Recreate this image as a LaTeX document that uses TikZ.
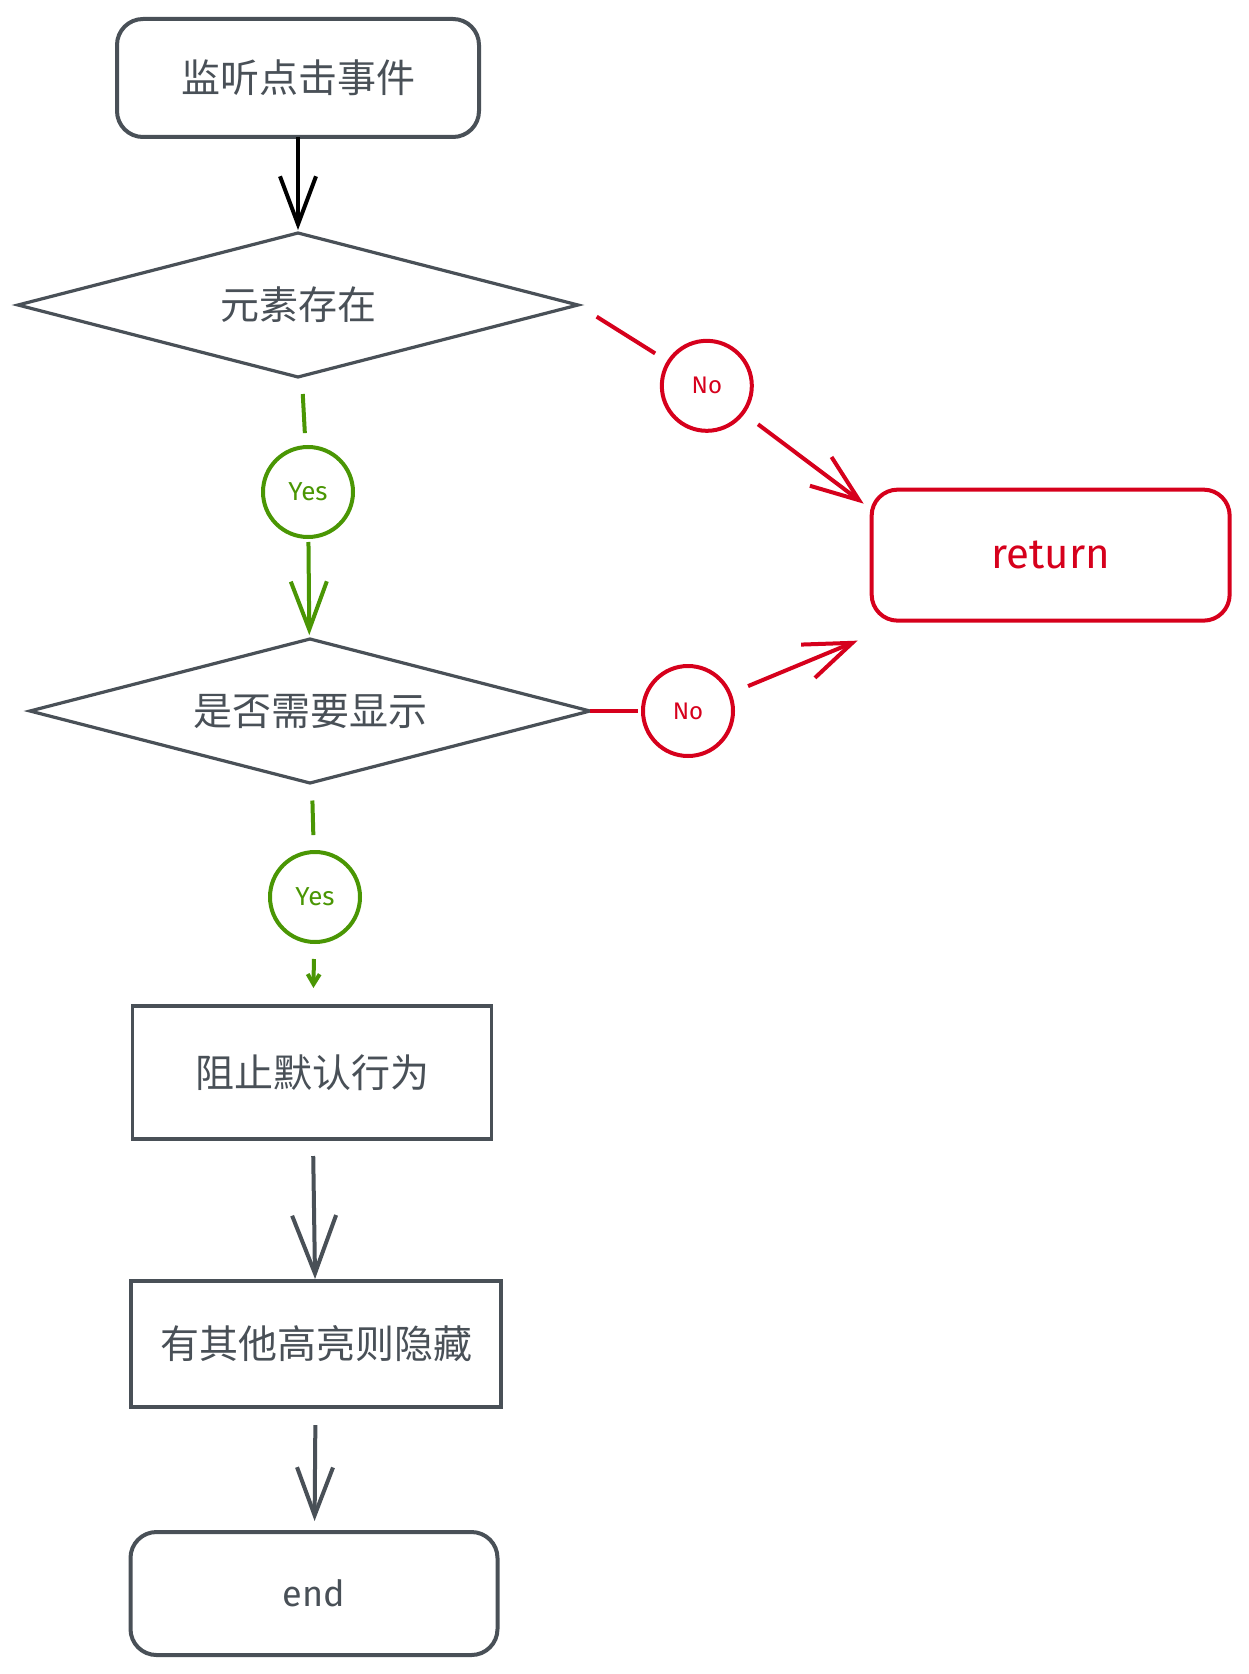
\documentclass[tikz,border=0pt]{standalone}
\usepackage{fontspec}
\setmainfont{Fira Sans}
\newfontfamily\cjk{Noto Sans CJK SC}
\usepackage{tikz}
\usetikzlibrary{shapes.geometric, arrows.meta, positioning}
\definecolor{inkgray}{RGB}{73,80,87}
\definecolor{inkred}{RGB}{214,0,28}
\definecolor{inkgreen}{RGB}{74,150,4}

\begin{document}
\begin{tikzpicture}[
    outer sep=0pt,
    zh/.style={font=\cjk\fontsize{19.5}{22}\selectfont, text=inkgray},
    terminal/.style={rectangle, draw=inkgray, line width=2pt, rounded corners=13pt, minimum width=181pt, minimum height=59pt, align=center},
    process/.style={rectangle, draw=inkgray, line width=1.6pt, minimum width=180pt, minimum height=65pt, align=center},
    decision/.style={diamond, draw=inkgray, line width=1.6pt, aspect=3.8, minimum width=280pt, minimum height=72pt, inner sep=1pt},
    yesmark/.style={circle, draw=inkgreen, text=inkgreen, line width=2pt, minimum size=45pt, inner sep=0pt, font=\fontsize{13}{15}\selectfont},
    nomark/.style={circle, draw=inkred, text=inkred, line width=2pt, minimum size=45pt, inner sep=0pt, font=\fontsize{12}{14}\selectfont},
    arrow/.style={-{Straight Barb[length=24pt, width=18pt]}, line width=2pt},
]
\useasboundingbox (0,0) rectangle (624pt,-837pt);

% Start
\node[terminal, zh] (listen) at (149pt,-39pt) {监听点击事件};

% Check 1: element exists
\node[decision, zh, below=48pt of listen] (exists) {元素存在};
\draw[arrow, black, shorten >=1.5pt] (listen) -- (exists);

\node[yesmark, below=35pt of exists, xshift=5pt] (yes1) {Yes};
\draw[inkgreen, line width=2pt, shorten <=9pt, shorten >=7pt] (exists) -- (yes1);

\node[nomark, below right=24.5pt and 48.5pt of exists.east] (no1) {No};
\draw[inkred, line width=2pt, shorten <=11pt, shorten >=8pt] (exists.east) -- (no1);

% Return
\node[terminal, draw=inkred, text=inkred, minimum width=179pt, minimum height=65.5pt,
      font=\fontsize{21}{24}\selectfont, below right=36pt and 66.5pt of no1] (ret) {return};
\draw[arrow, inkred, shorten <=9.5pt] (no1) -- ([xshift=-4pt, yshift=-7pt]ret.north west);

% Check 2: needs to show
\node[decision, zh, below=51pt of yes1, xshift=1pt] (needshow) {是否需要显示};
\draw[arrow, inkgreen, shorten <=2.5pt, shorten >=2pt] (yes1) -- (needshow);

\node[nomark, right=26.5pt of needshow] (no2) {No};
\draw[inkred, line width=2pt, shorten >=2.5pt] (needshow) -- (no2);
\draw[arrow, inkred, shorten <=10pt] (no2) -- ([xshift=-7pt, yshift=-10pt]ret.south west);

\node[yesmark, below=34.5pt of needshow, xshift=2.5pt] (yes2) {Yes};
\draw[inkgreen, line width=2pt, shorten <=9pt, shorten >=8.5pt] (needshow) -- (yes2);

% Actions
\node[process, zh, minimum width=179.5pt, minimum height=66.5pt, below=32pt of yes2, xshift=-1.5pt] (prevent) {阻止默认行为};
\draw[-{Straight Barb[length=5pt, width=6pt]}, inkgreen, line width=2pt, shorten <=8.5pt, shorten >=9pt] (yes2) -- (prevent);

\node[process, zh, minimum width=185pt, minimum height=63pt, below=71pt of prevent, xshift=2pt] (hideothers) {有其他高亮则隐藏};
\draw[arrow, inkgray, -{Straight Barb[length=29pt, width=22pt]}, shorten <=8.5pt, shorten >=1pt] (prevent) -- (hideothers);

% End
\node[terminal, text=inkgray, minimum width=183.5pt, minimum height=61.5pt,
      font=\fontsize{18}{21}\selectfont, below=62.5pt of hideothers, xshift=-1pt] (finish) {end};
\draw[arrow, inkgray, shorten <=9pt, shorten >=5.5pt] (hideothers) -- (finish);
\end{tikzpicture}
\end{document}
